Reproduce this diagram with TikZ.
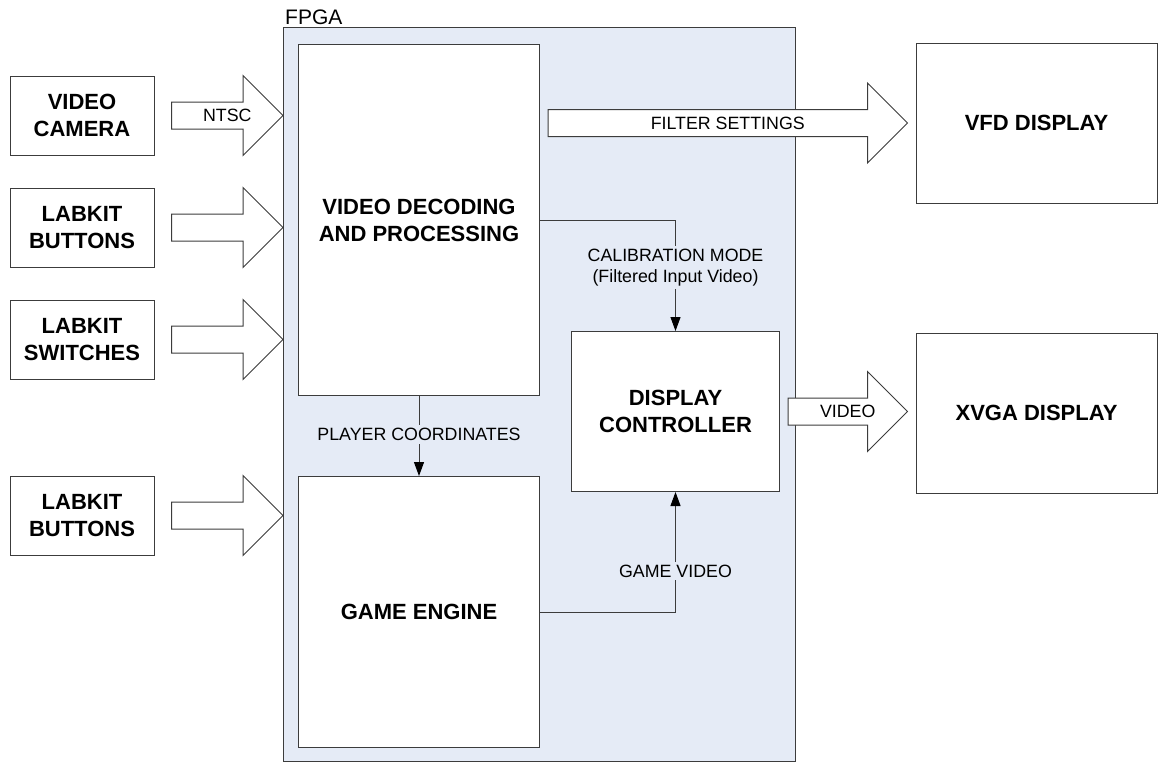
\documentclass[tikz,border=0pt]{standalone}
\usepackage{fontspec}
\setmainfont{Liberation Sans}
\usetikzlibrary{positioning,calc,arrows.meta}

\definecolor{fpgablue}{RGB}{229,235,246}
\definecolor{edgegrey}{RGB}{60,60,60}

\newcommand{\boxfont}{\fontsize{22}{27}\selectfont\bfseries}
\newcommand{\sigfont}{\fontsize{17.8}{21.5}\selectfont}
\newcommand{\fpgafont}{\fontsize{21}{25}\selectfont}

% hollow block arrow from tail #1 to tip #2
\newcommand{\fatarrow}[2]{%
  \draw[fatarrow] ($(#1)+(0,-13.5)$) -- ($(#2)+(-40,-13.5)$) -- ($(#2)+(-40,-40)$)
    -- (#2) -- ($(#2)+(-40,40)$) -- ($(#2)+(-40,13.5)$) -- ($(#1)+(0,13.5)$) -- cycle;
}

\begin{document}
\begin{tikzpicture}[x=1pt,y=-1pt,
    unit/.style={draw=edgegrey,fill=white,line width=1pt,align=center,font=\boxfont,inner sep=0pt},
    io/.style={unit,minimum width=144pt,minimum height=79pt},
    screen/.style={unit,minimum width=241pt,minimum height=160pt},
    signal/.style={font=\sigfont,align=center,inner sep=3pt},
    fatarrow/.style={draw=edgegrey,fill=white,line width=1pt,line join=miter},
    wire/.style={draw=edgegrey,line width=1pt,-{Triangle[width=10pt,length=14pt,color=black]}}]
    \useasboundingbox (0,0) rectangle (1161,763);
    %
    \node[draw=edgegrey,fill=fpgablue,line width=1pt,minimum width=512pt,
          minimum height=734pt,anchor=north west] (fpga) at (283,27) {};
    \node[above right=0pt of fpga.north west,font=\fpgafont,inner sep=2pt] (fpgalbl) {FPGA};
    %
    \node[unit,minimum width=241pt,minimum height=351pt,anchor=north west]
                                   (vdp)     at (298,44) {VIDEO DECODING\\AND PROCESSING};
    \node[unit,minimum width=241pt,minimum height=271pt,below=80pt of vdp]
                                   (engine)  {GAME ENGINE};
    \node[unit,minimum width=208pt,minimum height=160pt,anchor=north west]
                                   (dispctl) at (571,331) {DISPLAY\\CONTROLLER};
    %
    \node[io]                      (cam)     at (82,115.5) {VIDEO\\CAMERA};
    \node[io,below=32pt of cam]    (btnA)    {LABKIT\\BUTTONS};
    \node[io,below=32pt of btnA]   (switch)  {LABKIT\\SWITCHES};
    \node[io,below=96pt of switch] (btnB)    {LABKIT\\BUTTONS};
    %
    \node[screen]                  (vfd)     at (1036.5,123) {VFD DISPLAY};
    \node[screen,below=129pt of vfd] (xvga)  {XVGA DISPLAY};
    %
    \coordinate (camtail)  at ($(cam.east)+(17,0)$);
    \coordinate (camtip)   at (fpga.west |- cam);
    \coordinate (btnAtail) at ($(btnA.east)+(17,0)$);
    \coordinate (btnAtip)  at (fpga.west |- btnA);
    \coordinate (swtail)   at ($(switch.east)+(17,0)$);
    \coordinate (swtip)    at (fpga.west |- switch);
    \coordinate (btnBtail) at ($(btnB.east)+(17,0)$);
    \coordinate (btnBtip)  at (fpga.west |- btnB);
    \coordinate (filttail) at ($(vdp.east |- vfd)+(8,0)$);
    \coordinate (filttip)  at ($(vfd.west)+(-8,0)$);
    \coordinate (vidtail)  at ($(dispctl.east)+(8,0)$);
    \coordinate (vidtip)   at ($(xvga.west |- dispctl)+(-8,0)$);
    %
    \fatarrow{camtail}{camtip}
    \fatarrow{btnAtail}{btnAtip}
    \fatarrow{swtail}{swtip}
    \fatarrow{btnBtail}{btnBtip}
    \fatarrow{filttail}{filttip}
    \fatarrow{vidtail}{vidtip}
    \node[signal] (ntsc)   at ($(camtail)!0.5!(camtip)$) {NTSC};
    \node[signal] (filter) at ($(filttail)!0.5!(filttip)$) {FILTER SETTINGS};
    \node[signal] (video)  at ($(vidtail)!0.5!(vidtip)$) {VIDEO};
    %
    \draw[wire] (vdp.east) -| (dispctl.north);
    \draw[wire] (vdp) -- (engine);
    \draw[wire] (engine.east) -| (dispctl.south);
    \node[signal,fill=fpgablue] (calib)  at ($(dispctl.north)+(0,-63.5)$)
        {CALIBRATION MODE\\(Filtered Input Video)};
    \node[signal,fill=fpgablue] (coords) at ($(vdp.south)!0.48!(engine.north)$)
        {PLAYER COORDINATES};
    \node[signal,fill=fpgablue] (gamevid) at ($(dispctl.south)+(0,79)$) {GAME VIDEO};
\end{tikzpicture}
\end{document}
